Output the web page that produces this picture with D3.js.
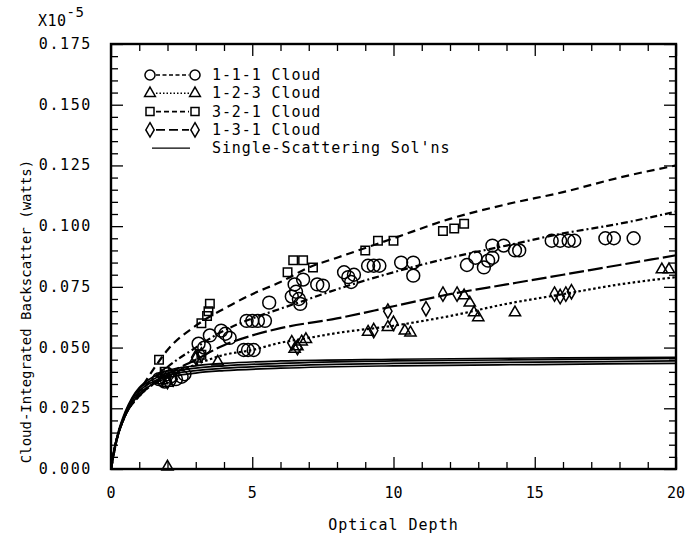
<!DOCTYPE html>
<html>
<head>
<meta charset="utf-8">
<script src="https://cdn.jsdelivr.net/npm/d3@7"></script>
<style>
  body { margin: 0; background: #fff; }
  svg { display: block; }
  text { font-family: "DejaVu Sans Mono", monospace; fill: #000; }
</style>
</head>
<body>
<svg width="698" height="538"></svg>
<script>
// ---- data (values in units of 1e-5 watts) ----
const x_ticks = [0, 5, 10, 15, 20];
const y_ticks = [0, 0.025, 0.05, 0.075, 0.1, 0.125, 0.15, 0.175];

// model curves (multiple scattering)
const curve_321 = [[0,0],[0.2,0.012],[0.5,0.022],[1,0.032],[1.5,0.041],[2,0.049],[3,0.059],[4,0.066],[5,0.072],[6,0.077],[7,0.083],[8,0.087],[10,0.095],[12,0.103],[14,0.109],[16,0.114],[18,0.120],[20,0.125]];
const curve_111 = [[0,0],[0.2,0.012],[0.5,0.022],[1,0.031],[2,0.042],[3,0.050],[4,0.057],[5,0.062],[6,0.066],[7,0.070],[8,0.074],[10,0.081],[12,0.087],[14,0.092],[16,0.097],[18,0.101],[20,0.106]];
const curve_131 = [[0,0],[0.2,0.012],[0.5,0.022],[1,0.030],[2,0.039],[3,0.045],[4,0.051],[5,0.055],[6,0.058],[8,0.062],[10,0.067],[12,0.072],[14,0.076],[16,0.080],[18,0.084],[20,0.088]];
const curve_123 = [[0,0],[0.2,0.012],[0.5,0.022],[1,0.030],[2,0.038],[3,0.043],[4,0.047],[5,0.049],[6,0.052],[7,0.054],[8,0.056],[10,0.059],[12,0.063],[14,0.068],[16,0.072],[18,0.076],[20,0.079]];

// single-scattering solutions
const single_a = [[0,0],[0.1,0.007],[0.25,0.014],[0.5,0.022],[0.75,0.027],[1,0.031],[1.5,0.035],[2,0.0375],[3,0.0395],[4,0.0405],[6,0.0415],[10,0.0425],[15,0.043],[20,0.0435]];
const single_b = [[0,0],[0.1,0.007],[0.25,0.014],[0.5,0.022],[0.75,0.028],[1,0.032],[1.5,0.036],[2,0.0385],[3,0.0405],[4,0.0415],[6,0.0425],[10,0.0435],[15,0.044],[20,0.0445]];
const single_c = [[0,0],[0.1,0.0075],[0.25,0.0145],[0.5,0.023],[0.75,0.029],[1,0.033],[1.5,0.037],[2,0.0395],[3,0.0415],[4,0.0425],[6,0.0435],[10,0.0445],[15,0.045],[20,0.0455]];
const single_d = [[0,0],[0.1,0.0075],[0.25,0.015],[0.5,0.0235],[0.75,0.0295],[1,0.0335],[1.5,0.038],[2,0.0405],[3,0.0425],[4,0.0435],[6,0.0445],[10,0.0452],[15,0.0457],[20,0.046]];

// measured points
const pts_111 = [[1.7,0.037],[1.9,0.036],[2.0,0.039],[2.1,0.038],[2.3,0.037],[2.5,0.038],[2.6,0.039],
  [3.1,0.0516],[3.3,0.050],[3.5,0.055],[3.9,0.057],[4.05,0.0557],[4.2,0.054],
  [4.7,0.049],[4.85,0.049],[5.05,0.049],[4.8,0.061],[5.0,0.061],[5.2,0.061],[5.45,0.061],[5.6,0.0685],
  [6.4,0.071],[6.55,0.073],[6.65,0.070],[6.7,0.068],[6.5,0.076],[6.8,0.078],[7.3,0.076],[7.5,0.0755],
  [8.25,0.081],[8.4,0.079],[8.5,0.077],[8.6,0.080],[9.1,0.0837],[9.3,0.0837],[9.5,0.0837],
  [10.27,0.085],[10.7,0.085],[10.7,0.0796],[12.6,0.084],[12.9,0.087],[13.2,0.083],[13.35,0.0858],[13.5,0.087],
  [13.5,0.092],[13.9,0.092],[14.3,0.090],[14.45,0.090],[15.6,0.094],[15.9,0.094],[16.2,0.094],[16.4,0.094],
  [17.5,0.095],[17.8,0.095],[18.5,0.095]];
const pts_123 = [[2.0,0.0005],[1.8,0.036],[2.0,0.035],[3.0,0.045],[3.78,0.0437],[6.5,0.049],[6.6,0.050],[6.75,0.052],[6.9,0.053],
  [9.1,0.056],[9.8,0.058],[10.4,0.0565],[10.6,0.0557],[12.5,0.071],[12.7,0.068],[12.85,0.064],[13.0,0.062],
  [14.3,0.064],[19.5,0.0817],[19.75,0.0817]];
const pts_321 = [[1.7,0.045],[1.9,0.040],[3.2,0.047],[3.2,0.060],[3.4,0.063],[3.45,0.065],[3.5,0.068],
  [6.25,0.081],[6.45,0.086],[6.8,0.086],[7.15,0.083],[9.0,0.090],[9.45,0.094],[10.0,0.094],
  [11.75,0.098],[12.15,0.099],[12.5,0.101]];
const pts_131 = [[1.8,0.038],[2.0,0.036],[2.2,0.037],[3.0,0.046],[3.2,0.047],[6.4,0.052],[6.6,0.050],
  [9.3,0.057],[9.8,0.065],[10.0,0.060],[11.15,0.066],[11.75,0.072],[12.25,0.072],
  [15.7,0.072],[15.9,0.071],[16.1,0.072],[16.3,0.073]];

const legend_labels = ["1-1-1 Cloud", "1-2-3 Cloud", "3-2-1 Cloud", "1-3-1 Cloud", "Single-Scattering Sol'ns"];

// ---- layout ----
const width = 698, height = 538;
const margin = { left: 111, right: 22, top: 44, bottom: 69 };

const svg = d3.select("svg").attr("viewBox", [0, 0, width, height]);

const x_scale = d3.scaleLinear().domain([0, 20]).range([margin.left, width - margin.right]);
const y_scale = d3.scaleLinear().domain([0, 0.175]).range([height - margin.bottom, margin.top]);

const line_gen = d3.line()
    .x(d => x_scale(d[0]))
    .y(d => y_scale(d[1]))
    .curve(d3.curveMonotoneX);

const dashes = {
  c111: "7,3,2,3",
  c123: "2.5,2.5",
  c321: "8,5",
  c131: "15,4",
  single: null
};

// single-scattering bundle
[single_a, single_b, single_c, single_d].forEach(s => {
  svg.append("path")
      .attr("fill", "none")
      .attr("stroke", "#000")
      .attr("stroke-width", 1.7)
      .attr("d", line_gen(s));
});

// model curves
const curves = [
  [curve_321, dashes.c321],
  [curve_111, dashes.c111],
  [curve_131, dashes.c131],
  [curve_123, dashes.c123]
];
curves.forEach(([c, dash]) => {
  svg.append("path")
      .attr("fill", "none")
      .attr("stroke", "#000")
      .attr("stroke-width", 2.2)
      .attr("stroke-dasharray", dash)
      .attr("d", line_gen(c));
});

// marker shapes
const sym = {
  circle: d3.symbol().type(d3.symbolCircle).size(130),
  triangle: d3.symbol().type(d3.symbolTriangle).size(55),
  square: d3.symbol().type(d3.symbolSquare).size(72),
  diamond: d3.symbol().type(d3.symbolDiamond).size(60)
};

function draw_points(data, shape, dy) {
  svg.append("g")
    .selectAll("path")
    .data(data)
    .join("path")
      .attr("transform", d => `translate(${x_scale(d[0])},${y_scale(d[1]) + (dy || 0)})`)
      .attr("d", sym[shape])
      .attr("fill", "none")
      .attr("stroke", "#000")
      .attr("stroke-width", 1.5);
}

draw_points(pts_111, "circle");
draw_points(pts_123, "triangle", -1);
draw_points(pts_321, "square");
draw_points(pts_131, "diamond");

// ---- axes (ticks inward on all four sides) ----
const plot_w = width - margin.left - margin.right;
const plot_h = height - margin.top - margin.bottom;
const x_minor = d3.range(0, 21, 1);
const y_minor = d3.range(0, 0.1751, 0.005);

const tick_len = (major) => major ? 12 : 7;

function tick_axis(axis_fn, scale, values, major_vals, transform, size_sign) {
  const g = svg.append("g").attr("transform", transform);
  g.call(axis_fn(scale).tickValues(values).tickSizeOuter(0).tickFormat(""));
  g.select(".domain").remove();
  g.selectAll(".tick line")
      .attr("stroke", "#000")
      .attr("stroke-width", 1.3)
      .each(function(d) {
        const major = major_vals.some(v => Math.abs(v - d) < 1e-6);
        const l = tick_len(major) * size_sign;
        const sel = d3.select(this);
        if (axis_fn === d3.axisBottom || axis_fn === d3.axisTop) sel.attr("y2", l);
        else sel.attr("x2", l);
      });
  return g;
}

tick_axis(d3.axisBottom, x_scale, x_minor, x_ticks, `translate(0,${height - margin.bottom})`, -1);
tick_axis(d3.axisTop, x_scale, x_minor, x_ticks, `translate(0,${margin.top})`, 1);
tick_axis(d3.axisLeft, y_scale, y_minor, y_ticks, `translate(${margin.left},0)`, 1);
tick_axis(d3.axisRight, y_scale, y_minor, y_ticks, `translate(${width - margin.right},0)`, -1);

// frame
svg.append("rect")
    .attr("x", margin.left)
    .attr("y", margin.top)
    .attr("width", plot_w)
    .attr("height", plot_h)
    .attr("fill", "none")
    .attr("stroke", "#000")
    .attr("stroke-width", 2.4);

// tick labels
svg.append("g")
  .selectAll("text")
  .data(x_ticks)
  .join("text")
    .attr("x", d => x_scale(d))
    .attr("y", height - margin.bottom + 29)
    .attr("text-anchor", "middle")
    .style("font-size", "15px")
    .text(d => d);

svg.append("g")
  .selectAll("text")
  .data(y_ticks)
  .join("text")
    .attr("x", margin.left - 19)
    .attr("y", d => y_scale(d) + 5)
    .attr("text-anchor", "end")
    .style("font-size", "15px")
    .style("letter-spacing", "1.6px")
    .text(d => d3.format(".3f")(d));

// exponent
const expo = svg.append("text")
    .attr("x", 38)
    .attr("y", 26)
    .style("font-size", "15px")
    .style("letter-spacing", "0.5px");
expo.append("tspan").text("X10");
expo.append("tspan").attr("dy", -9).style("font-size", "14px").text("-5");

// axis labels
svg.append("text")
    .attr("x", (margin.left + width - margin.right) / 2)
    .attr("y", height - 8)
    .attr("text-anchor", "middle")
    .style("font-size", "15px")
    .style("letter-spacing", "1px")
    .text("Optical Depth");

svg.append("text")
    .attr("text-anchor", "middle")
    .attr("transform", `translate(31, ${(margin.top + height - margin.bottom) / 2 + 55}) rotate(-90)`)
    .style("font-size", "14px")
    .text("Cloud-Integrated Backscatter (watts)");

// ---- legend ----
const legend_y0 = 75, legend_dy = 18.3;
const legend_shapes = ["circle", "triangle", "square", "diamond", null];
const legend_dash = ["4,2.5", "1.5,2", "5,3", "9,4", null];
const leg_sym = {
  circle: d3.symbol().type(d3.symbolCircle).size(80),
  triangle: d3.symbol().type(d3.symbolTriangle).size(50),
  square: d3.symbol().type(d3.symbolSquare).size(64),
  diamond: d3.symbol().type(d3.symbolDiamond).size(60)
};

legend_labels.forEach((label, i) => {
  const y = legend_y0 + i * legend_dy;
  const g = svg.append("g");
  const shape = legend_shapes[i];
  g.append("line")
      .attr("x1", shape ? 156 : 152)
      .attr("x2", shape ? 189 : 190)
      .attr("y1", y).attr("y2", y)
      .attr("stroke", "#000")
      .attr("stroke-width", shape ? 1.6 : 1.3)
      .attr("stroke-dasharray", legend_dash[i]);
  if (shape) {
    [150, 195].forEach(cx => {
      g.append("path")
          .attr("transform", `translate(${cx},${y})`)
          .attr("d", leg_sym[shape])
          .attr("fill", "#fff")
          .attr("stroke", "#000")
          .attr("stroke-width", 1.5);
    });
  }
  g.append("text")
      .attr("x", 212)
      .attr("y", y + 5)
      .style("font-size", "15px")
      .style("letter-spacing", "0.9px")
      .text(label);
});
</script>
</body>
</html>
